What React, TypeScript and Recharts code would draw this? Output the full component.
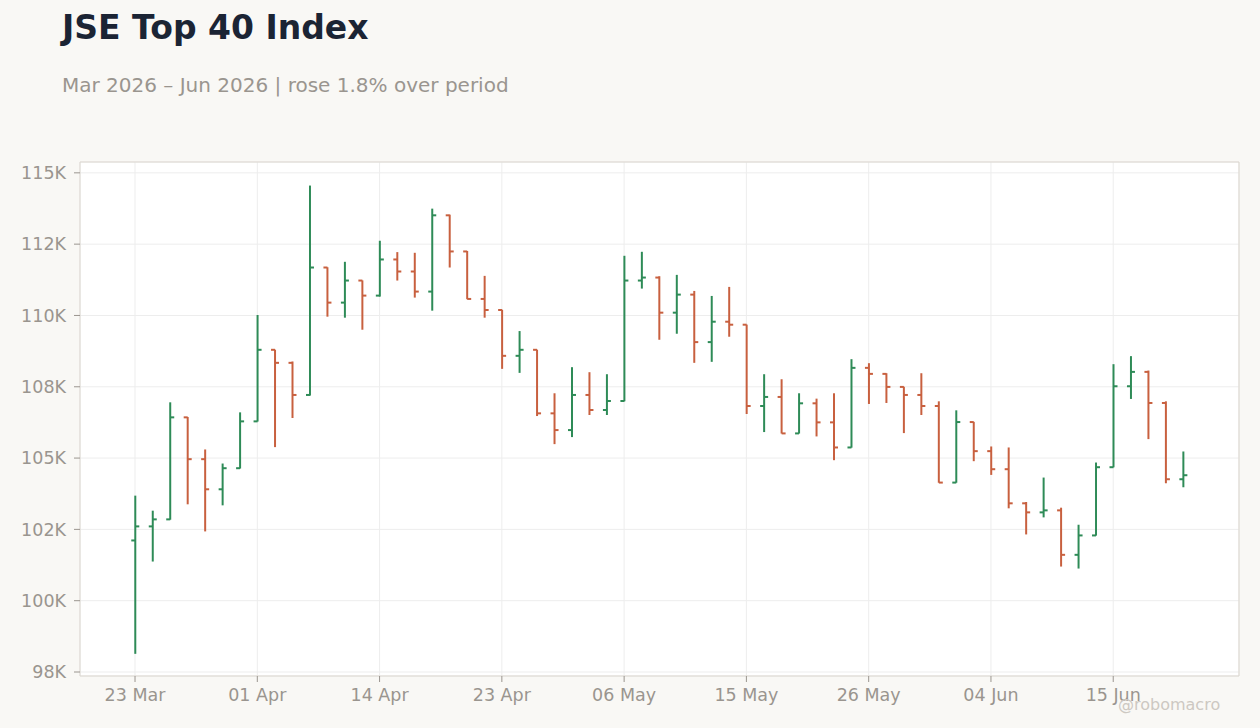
import React from 'react';
import { ComposedChart, Bar, XAxis, YAxis, CartesianGrid, ReferenceArea } from 'recharts';

// JSE trading days (Good Friday, Family Day, Freedom Day, Workers' Day, Youth Day skipped)
const dates = [
  '23 Mar', '24 Mar', '25 Mar', '26 Mar', '27 Mar', '30 Mar', '31 Mar',
  '01 Apr', '02 Apr', '07 Apr', '08 Apr', '09 Apr', '10 Apr', '13 Apr',
  '14 Apr', '15 Apr', '16 Apr', '17 Apr', '20 Apr', '21 Apr', '22 Apr',
  '23 Apr', '24 Apr', '28 Apr', '29 Apr', '30 Apr', '04 May', '05 May',
  '06 May', '07 May', '08 May', '11 May', '12 May', '13 May', '14 May',
  '15 May', '18 May', '19 May', '20 May', '21 May', '22 May', '25 May',
  '26 May', '27 May', '28 May', '29 May', '01 Jun', '02 Jun', '03 Jun',
  '04 Jun', '05 Jun', '08 Jun', '09 Jun', '10 Jun', '11 Jun', '12 Jun',
  '15 Jun', '17 Jun', '18 Jun', '19 Jun', '22 Jun',
];

const opens = [
  102112, 102605, 102851, 106428, 104962, 103906, 104645,
  106287, 108796, 108339, 107213, 111681, 110450, 111224,
  110696, 111963, 111541, 110837, 113511, 112244, 110579,
  110192, 108585, 108796, 106568, 105982, 107213, 106686,
  107002, 111224, 111329, 110098, 110731, 109066, 109781,
  109676, 106826, 107143, 105865, 106920, 106252, 105372,
  108163, 107952, 107495, 107213, 106826, 104141, 106263,
  105243, 104610, 103414, 103097, 103167, 101608, 102288,
  104680, 107518, 108022, 106932, 104258,
];

const highs = [
  103683, 103156, 106955, 106440, 105302, 104809, 106603,
  110016, 108800, 108386, 114554, 111690, 111881, 111230,
  112619, 112221, 112197, 113745, 113534, 112260, 111388,
  110200, 109453, 108800, 107272, 108187, 108011, 107940,
  112092, 112232, 111376, 111423, 110860, 110684, 111001,
  109680, 107940, 107764, 107272, 107084, 107272, 108468,
  108327, 107975, 107500, 107975, 106990, 106674, 106270,
  105407, 105372, 103461, 104317, 103261, 102663, 104844,
  108292, 108574, 108069, 106990, 105231,
];

const lows = [
  98137, 101373, 102839, 103379, 102429, 103343, 104633,
  106280, 105384, 106404, 107190, 109957, 109922, 109500,
  110661, 111224, 110626, 110168, 111681, 110570, 109922,
  108128, 107987, 106474, 105489, 105736, 106510, 106510,
  106990, 110942, 109148, 109359, 108339, 108374, 109254,
  106545, 105912, 105860, 105860, 105759, 104926, 105365,
  106897, 106932, 105876, 106510, 104135, 104135, 104891,
  104410, 103238, 102323, 102921, 101197, 101127, 102280,
  104675, 107073, 105665, 104117, 103977,
];

const closes = [
  102605, 102851, 106428, 104962, 103906, 104645, 106287,
  108796, 108339, 107213, 111681, 110450, 111224, 110696,
  111963, 111541, 110837, 113511, 112244, 110579, 110192,
  108585, 108796, 106568, 105982, 107213, 106686, 107002,
  111224, 111329, 110098, 110731, 109066, 109781, 109676,
  106826, 107143, 105865, 106920, 106252, 105372, 108163,
  107952, 107495, 107213, 106826, 104141, 106263, 105243,
  104610, 103414, 103097, 103167, 101608, 102288, 104680,
  107518, 108022, 106932, 104258, 104399,
];

const xTicks = [0, 7, 14, 21, 28, 35, 42, 49, 56];
const yTicks = [97500, 100000, 102500, 105000, 107500, 110000, 112500, 115000];
const yTickLabels = ['98K', '100K', '102K', '105K', '108K', '110K', '112K', '115K'];

const X_DOMAIN: [number, number] = [-3.15, 63.2];
const Y_DOMAIN: [number, number] = [97360, 115380];

const UP = '#2e8b57';
const DOWN = '#c8603f';
const MUTED = '#9a958f';

const data = dates.map((date, i) => ({
  i,
  date,
  open: opens[i],
  high: highs[i],
  low: lows[i],
  close: closes[i],
}));

const OhlcShape = (props: any) => {
  const { x, y, width, height, payload } = props;
  if (payload == null || x == null) return null;
  const top = Math.min(y, y + height);
  const bottom = Math.max(y, y + height);
  const span = payload.high - payload.low || 1;
  const toPx = (v: number) => top + ((payload.high - v) / span) * (bottom - top);
  const cx = x + width / 2;
  const color = payload.close >= payload.open ? UP : DOWN;
  const yo = toPx(payload.open);
  const yc = toPx(payload.close);
  return (
    <g>
      <line x1={cx} x2={cx} y1={top} y2={bottom} stroke={color} strokeWidth={2} />
      <line x1={x} x2={cx} y1={yo} y2={yo} stroke={color} strokeWidth={2} />
      <line x1={cx} x2={x + width} y1={yc} y2={yc} stroke={color} strokeWidth={2} />
    </g>
  );
};

export default function App() {
  return (
    <div
      style={{
        position: 'absolute',
        left: 0,
        top: 0,
        width: 1260,
        height: 728,
        background: '#f9f8f5',
        fontFamily: '"DejaVu Sans", sans-serif',
        overflow: 'hidden',
      }}
    >
      <div style={{ position: 'absolute', left: 62, top: 11, fontSize: 33, lineHeight: 1, fontWeight: 'bold', color: '#1b2434', whiteSpace: 'nowrap' }}>
        JSE Top 40 Index
      </div>
      <div style={{ position: 'absolute', left: 62, top: 75, fontSize: 20, lineHeight: 1, color: MUTED, whiteSpace: 'nowrap' }}>
        Mar 2026 – Jun 2026 | rose 1.8% over period
      </div>
      <ComposedChart
        width={1260}
        height={728}
        data={data}
        margin={{ top: 162, right: 21, bottom: 0, left: 0 }}
      >
        <CartesianGrid stroke="#ededed" fill="#ffffff" />
        <XAxis
          type="number"
          dataKey="i"
          domain={X_DOMAIN}
          ticks={xTicks}
          tickFormatter={(v: number) => dates[v] ?? ''}
          allowDataOverflow
          height={52}
          axisLine={false}
          tickLine={{ stroke: MUTED }}
          tickSize={6}
          tickMargin={7}
          tick={{ fill: MUTED, fontSize: 17.5 }}
          interval={0}
        />
        <YAxis
          type="number"
          domain={Y_DOMAIN}
          ticks={yTicks}
          tickFormatter={(v: number) => yTickLabels[yTicks.indexOf(v)] ?? ''}
          allowDataOverflow
          width={80}
          axisLine={false}
          tickLine={{ stroke: MUTED }}
          tickSize={6}
          tickMargin={8}
          tick={{ fill: MUTED, fontSize: 17.5 }}
          interval={0}
        />
        <ReferenceArea
          x1={X_DOMAIN[0]}
          x2={X_DOMAIN[1]}
          y1={Y_DOMAIN[0]}
          y2={Y_DOMAIN[1]}
          fill="none"
          stroke="#dcd7cf"
          strokeWidth={1}
        />
        <Bar
          dataKey={(d: any) => [d.low, d.high]}
          barSize={8}
          shape={OhlcShape}
          isAnimationActive={false}
        />
      </ComposedChart>
      <div style={{ position: 'absolute', left: 1118, top: 697, fontSize: 16, lineHeight: 1, color: '#cdc8c2', whiteSpace: 'nowrap' }}>
        @robomacro
      </div>
    </div>
  );
}
